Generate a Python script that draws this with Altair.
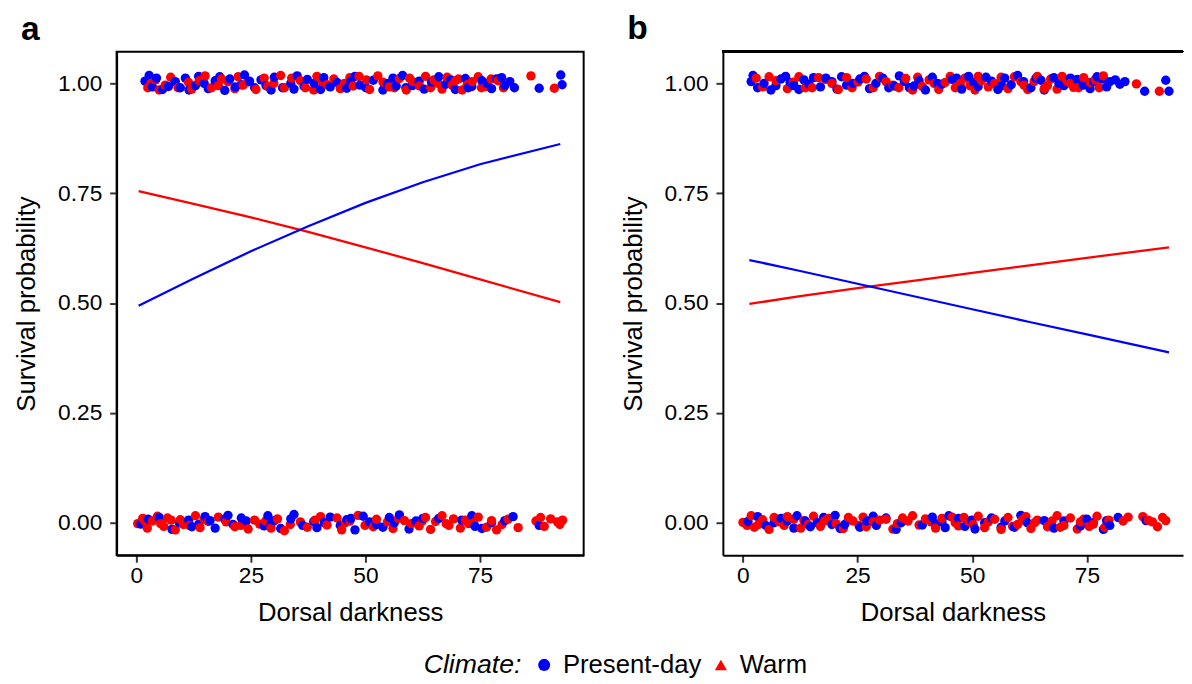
import altair as alt
import pandas as pd

FONT = "Liberation Sans"
climates = ["Present-day", "Warm"]
colors = ["#0000ff", "#ff0000"]
legend_shapes = ["circle", "triangle-up"]

# jittered observations (x = dorsal darkness, y = survival 0/1 with jitter)
a_top_blue = [(2.8,1.018),(3.5,0.992),(5.7,0.986),(8.5,1.004),(9.6,0.99),(10.7,1.012),(12.9,0.995),(13.6,1.016),
              (15.7,0.988),(17.2,1.006),(19.3,0.984),(20.4,1.01),(22.9,0.997),(23.6,1.019),(25.8,0.99),(27.2,1.008),
              (29.4,0.985),(30.1,1.014),(33.7,1.0),(34.4,0.987),(35.1,1.017),(36.6,0.993),(37.3,1.009),(40.2,0.986),
              (40.9,1.013),(43.8,1.002),(45.9,0.989),(47.7,1.016),(48.8,0.996),(51.7,1.007),(53.8,0.985),(56.0,1.012),
              (56.7,0.994),(58.1,1.018),(58.8,0.99),(61.7,1.005),(62.8,0.987),(66.0,1.015),(67.5,0.998),(69.6,0.986),
              (71.8,1.011),(73.2,0.993),(75.4,1.006),(77.5,0.988),(79.7,1.013),(80.4,0.995),(82.5,0.99),(87.9,0.989),
              (92.6,1.019),(92.9,0.997),
              (1.9,1.005),(4.4,1.012),(7.0,0.993),(11.5,0.985),(14.8,1.0),(18.2,1.015),(21.6,0.992),(24.7,1.005),
              (28.3,0.995),(31.9,0.99),(38.8,1.0),(42.3,0.992),(46.8,1.004),(50.1,0.99),(54.9,1.0),(60.2,0.995),
              (64.4,1.003),(68.6,1.008),(72.4,0.99),(76.5,1.0),(78.6,1.01),(81.5,1.004)]
a_top_red = [(2.5,0.99),(4.2,1.008),(5.0,0.985),(7.5,1.014),(11.4,1.002),(12.1,0.987),(15.0,1.017),(17.9,0.995),
             (18.6,1.01),(21.5,0.988),(22.2,1.015),(24.4,1.003),(26.1,0.986),(27.9,1.012),(28.7,0.993),(31.5,1.018),
             (32.3,0.99),(35.8,1.006),(38.7,0.985),(39.4,1.016),(41.6,0.997),(43.1,1.01),(44.5,0.988),(46.6,1.013),
             (47.3,0.994),(50.2,1.008),(50.9,0.986),(52.7,1.017),(55.2,0.992),(57.4,1.011),(58.9,0.985),(60.3,1.004),
             (63.1,1.016),(64.2,0.99),(64.9,1.008),(66.7,0.987),(67.8,1.014),(68.9,0.996),(70.3,1.01),(71.1,0.985),
             (73.3,1.004),(74.6,1.015),(76.1,0.993),(78.9,1.006),(86.1,1.017),(91.2,0.989),
             (3.2,1.0),(6.3,0.996),(9.1,0.99),(13.7,1.006),(16.4,0.99),(20.0,1.004),(23.3,0.996),(30.0,1.0),
             (33.9,1.012),(36.9,0.99),(40.5,1.004),(45.4,1.0),(48.6,1.016),(53.8,1.003),(56.3,0.99),(59.6,1.012),
             (61.8,0.994),(65.8,1.0),(69.6,1.006),(72.2,0.997),(75.3,0.99),(77.4,1.01),(80.1,0.99)]
a_bottom_blue = [(1.0,-0.003),(5.0,0.012),(7.8,-0.015),(11.4,0.006),(12.1,-0.009),(15.0,0.014),(17.2,-0.012),
                 (19.3,0.008),(20.0,0.017),(21.1,-0.004),(22.9,0.011),(27.9,-0.007),(28.7,0.016),(30.1,0.005),
                 (31.5,-0.013),(33.7,0.009),(34.4,0.019),(38.7,0.003),(39.4,-0.011),(42.3,0.013),(44.5,-0.006),
                 (45.9,0.007),(47.7,-0.016),(49.5,0.015),(50.9,0.002),(53.8,-0.01),(55.2,0.012),(57.4,0.018),
                 (59.5,-0.014),(61.0,0.004),(66.0,0.01),(73.2,0.016),(73.9,-0.008),(75.4,-0.013),(80.4,0.005),
                 (82.2,0.014),(87.9,-0.006),
                 (2.6,0.008),(9.4,0.0),(13.6,-0.004),(16.1,0.005),(24.0,0.004),(29.4,-0.002),(36.3,-0.006),
                 (41.0,0.0),(46.8,0.01),(52.4,-0.004),(56.3,0.0),(62.5,0.01),(71.0,0.006),(77.5,0.0)]
a_bottom_red = [(0.3,-0.002),(1.4,0.01),(2.4,-0.012),(3.5,0.004),(4.6,0.015),(6.0,-0.008),(6.8,0.011),(8.5,-0.016),
                (9.6,0.007),(10.3,-0.004),(12.9,0.016),(13.9,-0.011),(15.7,0.003),(17.9,0.013),(21.5,-0.009),
                (24.4,-0.014),(25.8,0.006),(26.9,-0.003),(29.4,-0.012),(30.8,0.009),(32.3,-0.018),(35.8,0.002),
                (37.3,-0.01),(40.2,0.014),(41.6,-0.005),(43.8,0.011),(44.8,-0.016),(46.6,0.004),(48.4,0.017),
                (51.7,-0.009),(52.4,0.008),(56.0,-0.013),(58.5,0.005),(61.7,-0.007),(63.1,0.012),(64.2,-0.015),
                (65.3,0.003),(66.7,0.016),(68.2,-0.006),(69.2,0.009),(70.7,-0.012),(71.8,0.006),(72.5,-0.002),
                (74.6,0.013),(76.4,-0.01),(77.5,0.005),(78.6,-0.016),(81.1,0.008),(83.3,-0.011),(87.2,0.004),
                (89.0,-0.008),(90.4,0.009),(91.9,0.002),(93.0,0.006),
                (1.9,0.004),(5.3,-0.002),(7.6,0.006),(11.6,-0.006),(14.8,0.008),(19.6,0.002),(22.8,-0.006),
                (28.2,0.004),(33.6,-0.004),(39.0,0.006),(45.6,0.0),(49.9,-0.006),(54.8,0.002),(57.2,0.01),
                (60.0,-0.002),(62.4,0.004),(67.6,-0.002),(73.6,0.0),(79.8,-0.004),(88.2,0.012),(92.4,-0.004)]

b_top_blue = [(2.2,1.018),(3.2,0.99),(6.1,0.985),(8.3,1.01),(9.3,1.016),(11.1,0.995),(12.2,0.986),(13.3,1.008),
              (15.4,1.013),(16.9,0.992),(19.4,1.004),(20.5,0.987),(21.5,1.015),(22.6,0.996),(25.5,1.01),(27.6,0.988),
              (30.5,1.012),(33.0,0.994),(34.1,1.017),(36.3,0.99),(38.4,1.006),(39.8,0.985),(41.3,1.014),(43.4,0.998),
              (45.6,1.009),(47.7,0.987),(49.2,1.016),(51.3,0.993),(54.2,1.005),(55.6,0.986),(57.1,1.012),(58.5,0.997),
              (59.9,1.018),(62.8,0.99),(65.0,1.007),(65.7,0.985),(67.8,1.013),(70.0,0.995),(72.9,1.009),(75.7,0.988),
              (77.2,1.015),(79.3,0.992),(80.0,1.004),(82.2,0.998),(87.6,0.982),(92.2,1.007),(92.9,0.982),
              (1.8,1.004),(4.6,1.0),(7.2,0.995),(10.3,1.002),(14.4,0.998),(18.1,1.012),(24.0,1.0),(26.5,1.016),
              (29.0,1.0),(31.8,0.99),(35.2,1.004),(37.3,0.994),(42.4,1.0),(46.6,1.012),(50.3,1.003),(53.0,1.014),
              (56.4,0.995),(61.2,1.004),(63.9,1.012),(68.9,1.0),(71.4,1.012),(74.2,0.996),(76.5,1.004),(78.3,1.01),
              (81.2,1.008),(83.3,1.004)]
b_top_red = [(2.9,1.012),(4.3,0.992),(7.2,1.006),(9.7,0.988),(12.2,1.015),(15.1,0.99),(18.0,1.009),(20.8,0.986),
             (22.6,1.013),(25.1,1.003),(28.4,0.99),(29.8,1.016),(32.7,0.996),(35.5,1.011),(37.0,0.985),(39.1,0.993),
             (40.6,1.008),(42.7,0.986),(44.1,1.002),(46.3,0.99),(48.4,1.012),(50.6,0.985),(52.0,1.006),(53.5,0.992),
             (56.3,1.014),(57.8,0.988),(60.6,1.004),(62.1,0.986),(64.2,1.016),(66.4,0.995),(67.1,1.01),(68.5,0.987),
             (70.7,1.005),(72.1,0.991),(74.3,1.013),(75.7,1.002),(78.6,1.017),(85.8,0.999),(90.8,0.982),
             (5.7,1.015),(11.0,1.003),(13.6,0.99),(16.5,1.013),(19.4,1.0),(23.8,0.99),(26.9,1.01),(31.2,1.004),
             (34.0,0.99),(38.1,1.014),(41.7,1.0),(45.2,1.016),(47.4,1.0),(49.5,0.995),(51.3,1.016),(54.9,1.0),
             (59.2,1.015),(61.3,0.996),(63.5,1.004),(65.7,0.988),(69.6,1.016),(71.4,1.0),(73.2,0.99),(76.8,1.008),
             (77.7,0.99)]
b_bottom_blue = [(1.1,0.003),(3.2,0.014),(5.0,-0.006),(8.3,0.01),(11.1,-0.012),(11.8,0.016),(13.6,0.004),
                 (14.7,-0.009),(17.6,0.012),(19.4,-0.004),(20.1,0.017),(21.2,-0.013),(23.0,0.007),(25.5,-0.01),
                 (28.4,0.015),(29.1,-0.006),(31.2,0.011),(33.4,-0.015),(39.1,-0.005),(41.3,0.013),(43.4,0.002),
                 (44.1,-0.011),(44.9,0.016),(48.4,-0.008),(49.9,0.006),(50.6,-0.014),(54.2,0.011),(57.1,0.004),
                 (59.2,-0.01),(60.6,0.017),(65.7,0.005),(67.8,-0.012),(73.6,-0.007),(75.0,0.008),(78.6,-0.015),
                 (80.0,-0.006),(81.8,0.012),(87.9,0.005),
                 (6.8,0.0),(9.7,0.004),(16.2,0.0),(22.2,-0.004),(27.0,0.004),(34.5,0.0),(42.0,-0.002),(47.0,0.01),
                 (52.7,0.0),(56.3,-0.01),(62.0,0.0),(70.0,0.004),(76.4,0.0),(79.3,0.005)]
b_bottom_red = [(0.0,0.001),(1.8,0.016),(2.5,-0.01),(4.3,0.007),(5.7,-0.015),(6.8,0.012),(9.0,-0.006),(9.7,0.014),
                (12.6,-0.012),(13.3,0.005),(15.4,0.015),(16.9,-0.008),(18.7,0.01),(21.9,-0.013),(24.0,0.004),
                (26.2,0.013),(26.9,-0.009),(29.8,0.006),(32.7,-0.014),(34.8,0.011),(37.0,0.016),(38.4,-0.005),
                (39.8,0.009),(42.0,-0.012),(45.6,0.013),(47.0,-0.007),(49.2,0.003),(51.3,0.015),(52.7,-0.011),
                (54.9,0.008),(56.3,-0.015),(57.8,0.012),(59.9,-0.004),(61.7,0.014),(62.8,-0.013),(64.2,0.006),
                (66.4,-0.009),(68.5,0.016),(70.0,-0.006),(71.4,0.011),(72.9,-0.014),(74.3,0.008),(76.4,-0.003),
                (77.2,0.015),(78.9,-0.01),(82.9,0.004),(84.0,0.013),(87.2,0.014),(89.3,0.002),(90.4,-0.009),
                (92.2,0.005),
                (0.9,-0.006),(3.4,-0.004),(7.9,0.002),(11.1,0.008),(14.2,-0.004),(17.8,0.004),(20.3,-0.002),
                (23.0,0.012),(25.3,-0.006),(28.4,0.002),(31.2,0.008),(33.7,-0.002),(36.0,0.004),(41.0,0.002),
                (43.4,0.01),(46.3,0.0),(48.2,0.012),(50.2,-0.004),(53.5,0.002),(58.8,-0.008),(60.9,0.006),
                (63.6,0.0),(67.4,0.004),(69.2,-0.01),(73.6,0.002),(75.5,-0.008),(79.8,0.006),(88.4,0.006),
                (91.5,0.012)]

# fitted logistic curves (read at a few x positions)
fit_x_a = [0.5, 12.5, 25, 37.5, 50, 62.5, 75, 92.5]
fit_a_present = [0.494, 0.556, 0.618, 0.675, 0.728, 0.775, 0.816, 0.862]
fit_a_warm = [0.755, 0.726, 0.695, 0.662, 0.627, 0.591, 0.554, 0.502]
fit_x_b = [1.4, 12.5, 25, 37.5, 50, 62.5, 75, 92.9]
fit_b_present = [0.598, 0.573, 0.544, 0.515, 0.486, 0.457, 0.429, 0.388]
fit_b_warm = [0.498, 0.516, 0.534, 0.551, 0.569, 0.586, 0.603, 0.627]

x_ticks = [0, 25, 50, 75]
y_ticks = [0, 0.25, 0.5, 0.75, 1.0]


def points_df(groups):
    rows = []
    for climate, pts in groups:
        for x, y in pts:
            rows.append({"x": x, "y": y, "climate": climate})
    return pd.DataFrame(rows).sort_values("x", kind="stable").reset_index(drop=True)


def line_df(xs, ys):
    return pd.DataFrame({"x": xs, "y": ys})


pts_a = points_df([("Present-day", a_top_blue), ("Warm", a_top_red),
                   ("Present-day", a_bottom_blue), ("Warm", a_bottom_red)])
pts_b = points_df([("Present-day", b_top_blue), ("Warm", b_top_red),
                   ("Present-day", b_bottom_blue), ("Warm", b_bottom_red)])

legend = alt.Legend(
    orient="none", legendX=311, legendY=608, direction="horizontal",
    title="Climate:", titleOrient="left", titleFont=FONT, titleFontSize=27,
    titleFontStyle="italic", titleFontWeight="normal", titleColor="black",
    titlePadding=9, titleBaseline="middle",
    labelFont=FONT, labelFontSize=26, labelColor="black", labelOffset=6,
    columnPadding=6, symbolSize=150, symbolStrokeWidth=0, symbolOpacity=1,
)

color_scale = alt.Scale(domain=climates, range=colors)
shape_scale = alt.Scale(domain=climates, range=legend_shapes)


def panel(label, pts, fit_x, fit_present, fit_warm, width, xdomain, first):
    x = alt.X("x:Q", scale=alt.Scale(domain=xdomain, nice=False, zero=False),
              axis=alt.Axis(values=x_ticks, title="Dorsal darkness", labelPadding=3, titlePadding=12))
    y = alt.Y("y:Q", scale=alt.Scale(domain=[-0.074, 1.072], nice=False, zero=False),
              axis=alt.Axis(values=y_ticks, format=".2f", title="Survival probability",
                            labelPadding=8, titlePadding=18))
    warm_line = alt.Chart(line_df(fit_x, fit_warm)).mark_line(strokeWidth=2.3, color=colors[1]).encode(
        x=x, y=y, order=alt.Order("x:Q"))
    present_line = alt.Chart(line_df(fit_x, fit_present)).mark_line(strokeWidth=2.3, color=colors[0]).encode(
        x=x, y=y, order=alt.Order("x:Q"))
    dots = alt.Chart(pts).mark_circle(size=90, opacity=1).encode(
        x=x, y=y, color=alt.Color("climate:N", scale=color_scale, legend=legend))
    layers = [warm_line, present_line, dots]
    if first:
        # legend-only layer (draws no marks): gives the legend its circle / triangle keys
        key = alt.Chart(pts).transform_filter("false").mark_point(filled=True, opacity=1).encode(
            x=x, y=y,
            color=alt.Color("climate:N", scale=color_scale, legend=legend),
            shape=alt.Shape("climate:N", scale=shape_scale, legend=legend),
        )
        layers.append(key)
    else:
        top = alt.Chart(pts).mark_rule(color="black", strokeWidth=2).encode(
            x=alt.value(0), x2=alt.value(width), y=alt.value(0))
        layers.append(top)
    title = alt.TitleParams(text=label, anchor="start", frame="bounds", font=FONT, fontSize=34,
                            fontWeight="bold", color="black", offset=5, dx=7)
    ch = alt.layer(*layers).properties(width=width, height=510, title=title)
    if first:
        ch = ch.properties(view=alt.ViewBackground(stroke="black", strokeWidth=2))
    return ch


pa = panel("a", pts_a, fit_x_a, fit_a_present, fit_a_warm, 473, [-4.3, 97.6], True)
pb = panel("b", pts_b, fit_x_b, fit_b_present, fit_b_warm, 466, [-4.37, 95.96], False)

chart = alt.hconcat(pa, pb, spacing=36).properties(
    padding={"left": 5, "top": 0, "right": 0, "bottom": 0}
).configure_axis(
    labelFont=FONT, labelFontSize=23, labelColor="black",
    titleFont=FONT, titleFontSize=26, titleFontWeight="normal", titleColor="black",
    tickColor="#333333", tickWidth=2, tickSize=7,
    domainColor="black", domainWidth=2, grid=False,
).configure_view(stroke=None)

chart.save("out.html", embed_options={"renderer": "svg", "actions": False})
